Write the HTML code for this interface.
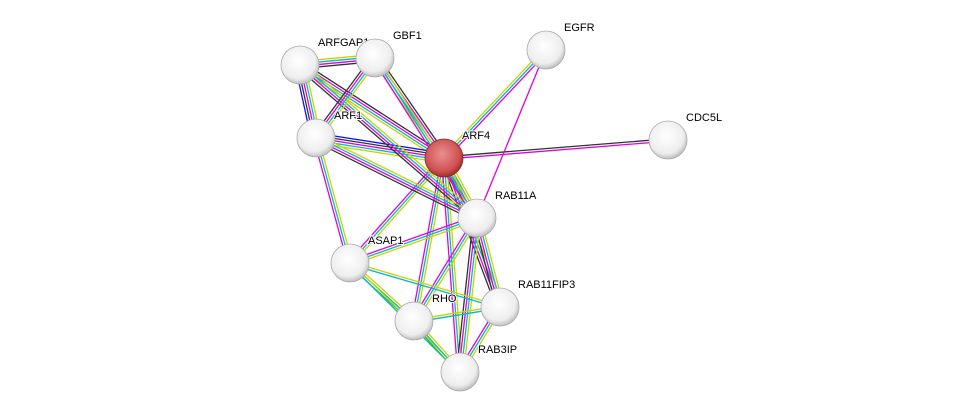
<!DOCTYPE html>
<html><head><meta charset="utf-8"><style>
html,body{margin:0;padding:0;background:#fff;}
svg{display:block}
text{font-family:"Liberation Sans",sans-serif;font-size:11px;fill:#000;paint-order:stroke;stroke:#fff;stroke-width:2px}
</style></head><body>
<svg id="s" width="975" height="418" viewBox="0 0 975 418" xmlns="http://www.w3.org/2000/svg">
<defs>
<radialGradient id="g" cx="0.45" cy="0.4" r="0.65">
<stop offset="0" stop-color="#ffffff"/><stop offset="0.7" stop-color="#eeeeee"/><stop offset="1" stop-color="#b0b0b0"/></radialGradient>
<radialGradient id="r" cx="0.45" cy="0.4" r="0.65">
<stop offset="0" stop-color="#e89090"/><stop offset="0.7" stop-color="#d05050"/><stop offset="1" stop-color="#902020"/></radialGradient>
</defs>
<g id="e"></g><g id="n"></g>
</svg>
<script>
var N={ARFGAP1:[300,65],GBF1:[375,58],EGFR:[546,50],ARF1:[316,138],ARF4:[444,158],CDC5L:[668,140],RAB11A:[477,218],ASAP1:[350,263],RAB11FIP3:[500,307],RHO:[414,321],RAB3IP:[460,372]};
var C={y:"#c8d400",c:"#00b8d0",m:"#e000e0",k:"#333",b:"#1010ff",g:"#30c030"};
var E=[["ARF4","ARFGAP1","ycmk"],["ARF4","GBF1","ycmk"],["ARF4","EGFR","ycm"],["ARF4","ARF1","ycmkb"],["ARF4","CDC5L","km"],["ARF4","RAB11A","ycmk"],["ARF4","ASAP1","ycm"],["ARF4","RHO","ycm"],["ARF4","RAB11FIP3","ycmk"],["ARF4","RAB3IP","ycm"],
["ARFGAP1","GBF1","ycmk"],["ARFGAP1","ARF1","ycmkb"],["ARFGAP1","RAB11A","ycmk"],["GBF1","ARF1","ycmk"],["GBF1","RAB11A","ycm"],["ARF1","RAB11A","ycmk"],["ARF1","ASAP1","ycm"],["EGFR","RAB11A","m"],
["RAB11A","ASAP1","ycm"],["RAB11A","RHO","ycm"],["RAB11A","RAB11FIP3","ycmk"],["RAB11A","RAB3IP","ycmk"],["ASAP1","RHO","ycg"],["ASAP1","RAB11FIP3","yc"],["ASAP1","RAB3IP","yc"],["RHO","RAB11FIP3","yc"],["RHO","RAB3IP","ycg"],["RAB11FIP3","RAB3IP","ycm"]];
var ns="http://www.w3.org/2000/svg",eg=document.getElementById("e"),ng=document.getElementById("n");
E.forEach(function(d){var a=N[d[0]],b=N[d[1]],dx=b[0]-a[0],dy=b[1]-a[1],L=Math.hypot(dx,dy),px=-dy/L,py=dx/L,k=d[2].length;
for(var i=0;i<k;i++){var o=(i-(k-1)/2)*2.4,l=document.createElementNS(ns,"line");
l.setAttribute("x1",a[0]+px*o);l.setAttribute("y1",a[1]+py*o);l.setAttribute("x2",b[0]+px*o);l.setAttribute("y2",b[1]+py*o);
l.setAttribute("stroke",C[d[2][i]]);l.setAttribute("stroke-width","1.3");eg.appendChild(l);}});
for(var k in N){var p=N[k],c=document.createElementNS(ns,"circle");c.setAttribute("cx",p[0]);c.setAttribute("cy",p[1]);c.setAttribute("r",19);
c.setAttribute("fill",k=="ARF4"?"url(#r)":"url(#g)");c.setAttribute("stroke",k=="ARF4"?"#802828":"#aaa");c.setAttribute("stroke-width","0.8");ng.appendChild(c);
var t=document.createElementNS(ns,"text");t.setAttribute("x",p[0]+18);t.setAttribute("y",p[1]-19);t.textContent=k;ng.appendChild(t);}
</script>
</body></html>
